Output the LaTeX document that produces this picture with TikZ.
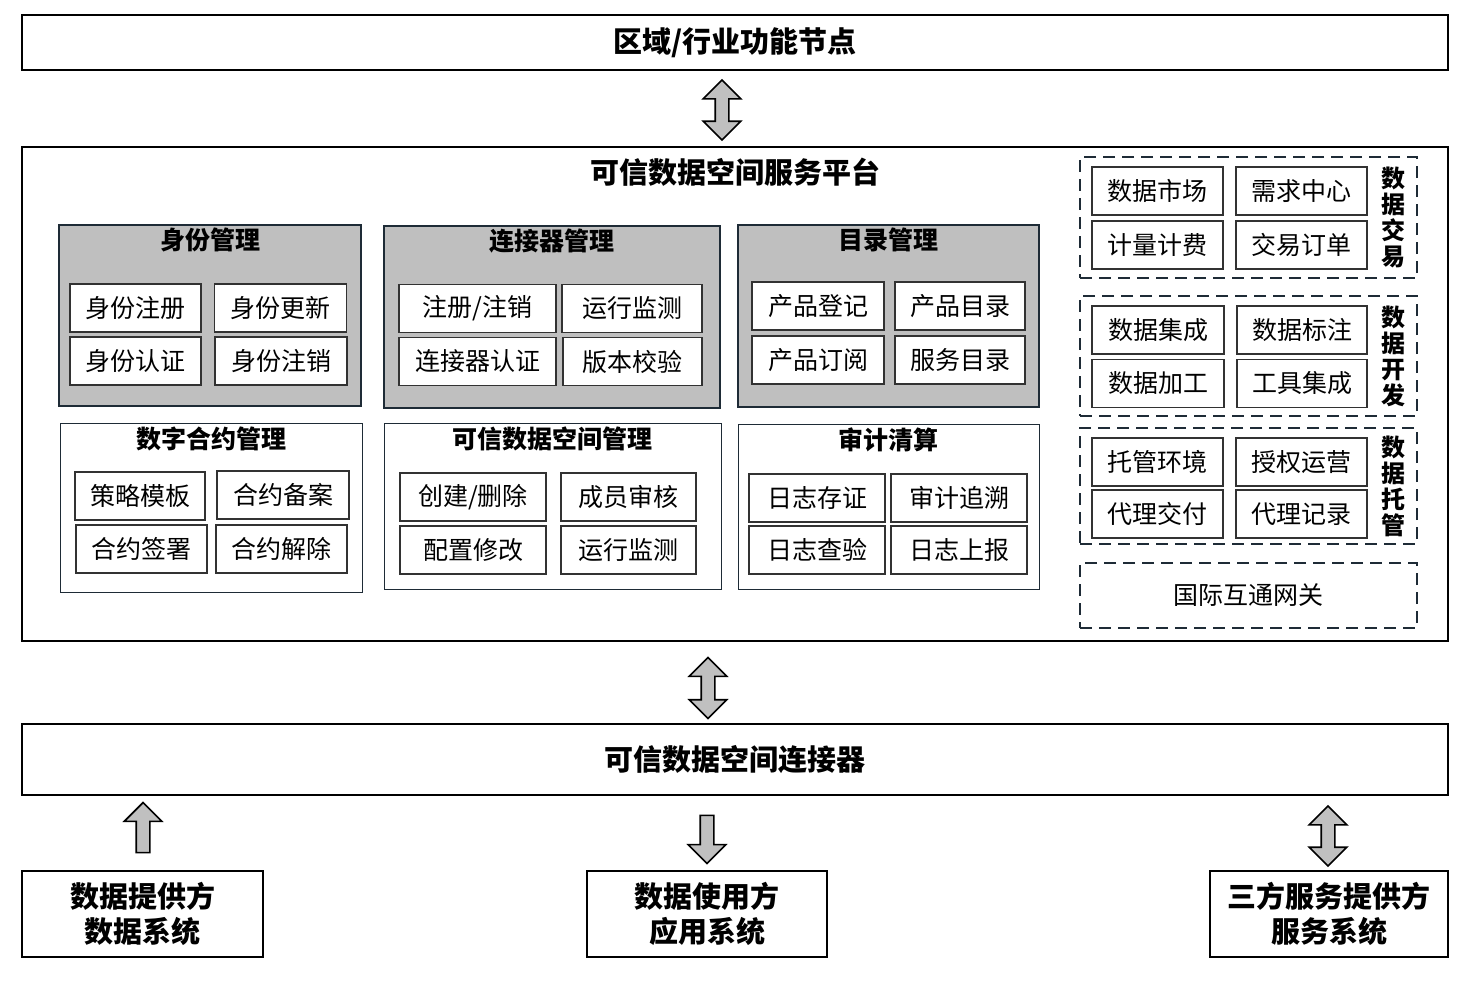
\documentclass[tikz,border=0pt]{standalone}
\usepackage{fontspec}
\setmainfont{Noto Sans CJK SC}
\usetikzlibrary{positioning, calc, fit, shapes.arrows}
\definecolor{grpgray}{RGB}{191,191,191}
\definecolor{grpline}{RGB}{30,43,54}
\definecolor{itemline}{RGB}{50,50,50}
\definecolor{arrowgray}{RGB}{192,192,192}

\begin{document}
\begin{tikzpicture}[
      x=0.5pt, y=-0.5pt,
      outer/.style={rectangle, draw, line width=1pt, inner sep=0pt},
      grp/.style={rectangle, draw=grpline, fill=grpgray, line width=1.2pt, inner sep=0pt},
      grpw/.style={rectangle, draw=grpline, fill=white, line width=0.5pt, inner sep=0pt},
      dgrp/.style={rectangle, draw=grpline, dash pattern=on 6pt off 3.5pt, line width=1pt, inner sep=0pt},
      item/.style={rectangle, draw=itemline, fill=white, line width=0.6pt, inner sep=0pt, minimum width=66pt, minimum height=24pt, font=\fontsize{12.5}{14}\selectfont},
      ptitle/.style={font=\fontsize{14.5}{17.5}\selectfont\bfseries, align=center},
      gtitle/.style={font=\fontsize{12.5}{14}\selectfont\bfseries},
      vlab/.style={font=\fontsize{12}{13}\selectfont\bfseries, align=center, inner sep=0pt},
      darr/.style={double arrow, draw, fill=arrowgray, line width=0.8pt, inner sep=3pt, double arrow head extend=6pt, rotate=90},
      sarr/.style={single arrow, draw, fill=arrowgray, line width=0.8pt, inner sep=3pt, single arrow head extend=6pt}
    ]
    \useasboundingbox (0,0) rectangle (1466,981);

    % 1. REGION / INDUSTRY NODE
    \node[outer, ptitle, minimum width=713pt, minimum height=27.5pt] (region) at (735,42.5) {区域/行业功能节点};

    % 2. SERVICE PLATFORM
    \node[outer, fit={(22,147) (1448,641)}] (platform) {};
    \node[ptitle] (platformtitle) at ($(platform.north)+(0,26)$) {可信数据空间服务平台};

    % identity
    \node[grp, fit={(59,225) (361,406)}] (idm) {};
    \node[gtitle] at ($(idm.north)+(0,16)$) {身份管理};
    \node[item, minimum width=65.5pt] (idm1) at (135.5,308) {身份注册};
    \node[item] (idm2) at (280.5,308) {身份更新};
    \node[item, minimum width=65.5pt] (idm3) at (135.5,361) {身份认证};
    \node[item] (idm4) at (281,361) {身份注销};

    % connector management
    \node[grp, fit={(384,226) (720,408)}] (conm) {};
    \node[gtitle] at ($(conm.north)+(0,16)$) {连接器管理};
    \node[item, minimum width=78.5pt] (conm1) at (477.5,308.5) {注册/注销};
    \node[item, minimum width=70pt] (conm2) at (632,308.5) {运行监测};
    \node[item, minimum width=78.5pt] (conm3) at (477.5,361.5) {连接器认证};
    \node[item, minimum width=69.5pt] (conm4) at (632.5,361.5) {版本校验};

    % catalogue
    \node[grp, fit={(738,225) (1039,407)}] (catm) {};
    \node[gtitle] at ($(catm.north)+(0,16)$) {目录管理};
    \node[item] (catm1) at (818,306) {产品登记};
    \node[item, minimum width=65pt] (catm2) at (960,306) {产品目录};
    \node[item] (catm3) at (818,360) {产品订阅};
    \node[item, minimum width=65pt] (catm4) at (960,360) {服务目录};

    % contracts
    \node[grpw, fit={(60,423) (362,592)}] (ctm) {};
    \node[gtitle] at ($(ctm.north)+(0,16)$) {数字合约管理};
    \node[item, minimum width=65pt] (ctm1) at (140,496) {策略模板};
    \node[item] (ctm2) at (283,495) {合约备案};
    \node[item, minimum width=65.5pt] (ctm3) at (141.5,549) {合约签署};
    \node[item, minimum width=65.5pt] (ctm4) at (281.5,549) {合约解除};

    % space management
    \node[grpw, fit={(384,423) (721,589)}] (spm) {};
    \node[gtitle] at ($(spm.north)+(0,16)$) {可信数据空间管理};
    \node[item, minimum width=73pt] (spm1) at (473,497) {创建/删除};
    \node[item, minimum width=67.5pt] (spm2) at (628.5,497) {成员审核};
    \node[item, minimum width=73pt] (spm3) at (473,550) {配置修改};
    \node[item, minimum width=67.5pt] (spm4) at (628.5,550) {运行监测};

    % audit
    \node[grpw, fit={(738,424) (1039,589)}] (aud) {};
    \node[gtitle] at ($(aud.north)+(0,16)$) {审计清算};
    \node[item, minimum width=68pt] (aud1) at (817,498) {日志存证};
    \node[item, minimum width=68pt] (aud2) at (959,498) {审计追溯};
    \node[item, minimum width=68pt] (aud3) at (817,550) {日志查验};
    \node[item, minimum width=68pt] (aud4) at (959,550) {日志上报};

    % data trading
    \node[dgrp, fit={(1080,157) (1417,278)}] (trade) {};
    \node[item, minimum width=65.5pt] (trade1) at (1157.5,191) {数据市场};
    \node[item, minimum width=65.5pt] (trade2) at (1301.5,191) {需求中心};
    \node[item, minimum width=65.5pt] (trade3) at (1157.5,245) {计量计费};
    \node[item, minimum width=65.5pt] (trade4) at (1301.5,245) {交易订单};
    \node[vlab] at (1393,217) {数\\据\\交\\易};

    % data development
    \node[dgrp, fit={(1080,296) (1417,416)}] (dev) {};
    \node[item] (dev1) at (1158,330) {数据集成};
    \node[item, minimum width=65pt] (dev2) at (1302,330) {数据标注};
    \node[item] (dev3) at (1158,383.5) {数据加工};
    \node[item, minimum width=65pt] (dev4) at (1302,383.5) {工具集成};
    \node[vlab] at (1393,356) {数\\据\\开\\发};

    % data hosting
    \node[dgrp, fit={(1080,428) (1417,544)}] (host) {};
    \node[item, minimum width=65.5pt] (host1) at (1157.5,462) {托管环境};
    \node[item, minimum width=65.5pt] (host2) at (1301.5,462) {授权运营};
    \node[item, minimum width=65.5pt] (host3) at (1157.5,514) {代理交付};
    \node[item, minimum width=65.5pt] (host4) at (1301.5,514) {代理记录};
    \node[vlab] at (1393,486) {数\\据\\托\\管};

    % gateway
    \node[dgrp, font=\fontsize{12.5}{14}\selectfont, minimum width=168.5pt, minimum height=32.5pt] (gateway) at (1248.5,595.5) {国际互通网关};

    % 3. CONNECTOR
    \node[outer, ptitle, minimum width=713pt, minimum height=35.5pt] (connector) at (735,759.5) {可信数据空间连接器};

    % 4. PARTICIPANTS
    \node[outer, ptitle, minimum width=120.5pt, minimum height=43pt] (provider) at (142.5,914) {数据提供方\\数据系统};
    \node[outer, ptitle, minimum width=120pt, minimum height=43pt] (consumer) at (707,914) {数据使用方\\应用系统};
    \node[outer, ptitle, minimum width=119pt, minimum height=43pt] (thirdparty) at (1329,914) {三方服务提供方\\服务系统};

    %%% BLOCK ARROWS
    \node[darr, minimum height=30pt] (regarrow) at (722,110) {};
    \node[darr, minimum height=30.5pt] (conarrow) at (708,688) {};
    \node[sarr, minimum height=25pt, rotate=90] (provarrow) at (143,831) {};
    \node[sarr, minimum height=24pt, rotate=-90] (consarrow) at (707,836) {};
    \node[darr, minimum height=30pt] (thirdarrow) at (1328,836) {};
    \end{tikzpicture}
\end{document}
